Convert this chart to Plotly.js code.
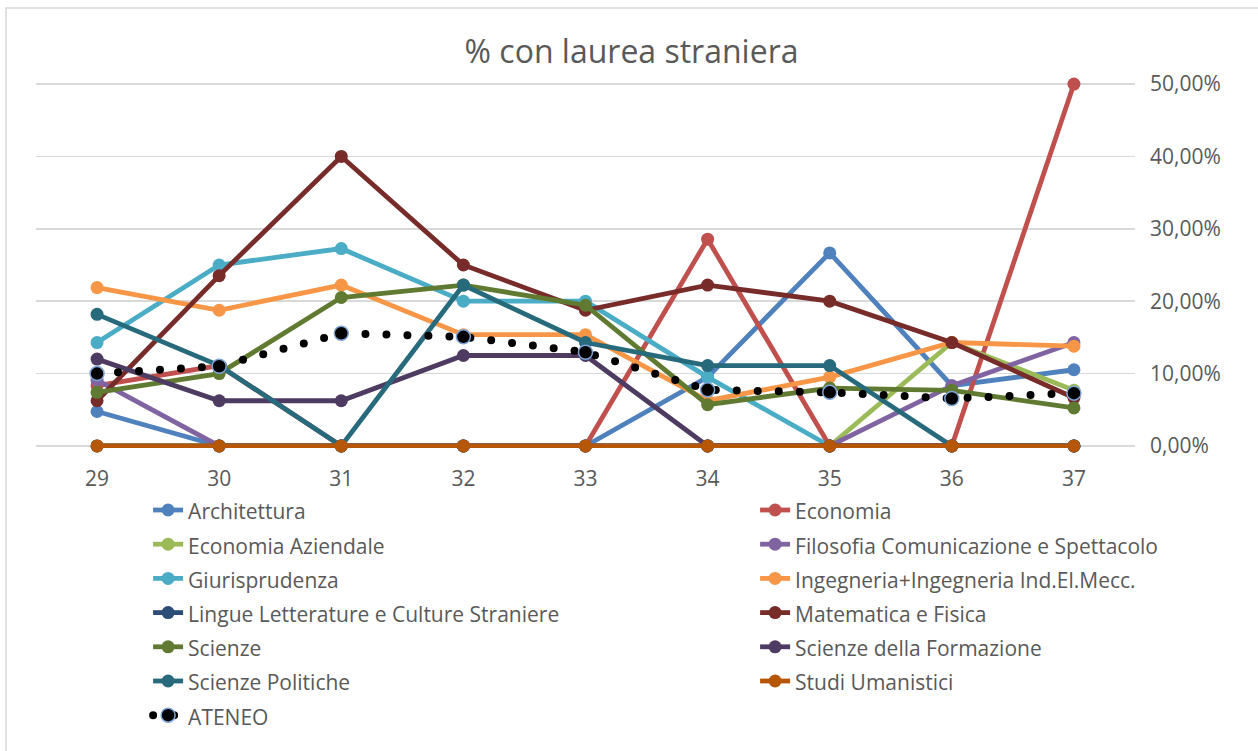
<!DOCTYPE html>
<html>
<head>
<meta charset="utf-8">
<script src="https://cdn.plot.ly/plotly-3.0.1.min.js"></script>
<style>
html,body{margin:0;padding:0;background:#fff;}
#chart{width:1258px;height:751px;}
.ateneo-line path.js-line{stroke-linecap:round;}
</style>
</head>
<body>
<div id="chart"></div>
<script>
const categories = ['29','30','31','32','33','34','35','36','37'];

const architettura     = [0.0476, 0, 0, 0, 0, 0.0952, 0.2667, 0.0833, 0.1053];
const economia         = [0.0833, 0.1111, 0, 0, 0, 0.2857, 0, 0, 0.5];
const economiaAz       = [0, 0, 0, 0, 0, 0, 0, 0.1429, 0.0769];
const filosofia        = [0.0909, 0, 0, 0, 0, 0, 0, 0.0833, 0.1429];
const giurisprudenza   = [0.1429, 0.25, 0.2727, 0.2, 0.2, 0.0952, 0, 0, 0];
const ingegneria       = [0.2188, 0.1875, 0.2222, 0.1538, 0.1538, 0.0625, 0.0952, 0.1429, 0.1379];
const lingue           = [0, 0, 0, 0, 0, 0, 0, 0, 0];
const matematica       = [0.0625, 0.2353, 0.4, 0.25, 0.1875, 0.2222, 0.2, 0.1429, 0.0667];
const scienze          = [0.0741, 0.1, 0.2051, 0.2222, 0.1944, 0.0571, 0.08, 0.0769, 0.0526];
const scienzeForm      = [0.12, 0.0625, 0.0625, 0.125, 0.125, 0, 0, 0, 0];
const scienzePol       = [0.1818, 0.1111, 0, 0.2222, 0.1429, 0.1111, 0.1111, 0, 0];
const studiUman        = [0, 0, 0, 0, 0, 0, 0, 0, 0];
const ateneo           = [0.1, 0.1101, 0.1557, 0.1508, 0.1295, 0.0775, 0.0741, 0.0656, 0.073];

const seriesNames = ['Architettura','Economia','Economia Aziendale','Filosofia Comunicazione e Spettacolo',
  'Giurisprudenza','Ingegneria+Ingegneria Ind.El.Mecc.','Lingue Letterature e Culture Straniere',
  'Matematica e Fisica','Scienze','Scienze della Formazione','Scienze Politiche','Studi Umanistici'];
const seriesValues = [architettura, economia, economiaAz, filosofia, giurisprudenza, ingegneria, lingue,
  matematica, scienze, scienzeForm, scienzePol, studiUman];
const seriesColors = ['#4F81BD','#C0504D','#9BBB59','#8064A2','#4BACC6','#F79646','#2C4D75',
  '#772C2A','#607B31','#4D3B62','#276A7C','#B65708'];

const LW = 4.8, MS = 13;
const label = t => '<span style="font-size:21px">' + t + '</span>';

const traces = seriesNames.map((n, i) => ({
  type: 'scatter', mode: 'lines+markers', x: categories, y: seriesValues[i],
  name: label(n),
  legendgroup: (i % 2 === 0) ? 'g1' : 'g2',
  legendwidth: (i % 2 === 0) ? 562 : undefined,
  line: {color: seriesColors[i], width: LW},
  marker: {color: seriesColors[i], size: MS},
  cliponaxis: false,
  hoverinfo: 'skip'
}));

traces.push({
  type: 'scatter', mode: 'lines+markers', x: categories, y: ateneo,
  name: label('ATENEO'),
  legendgroup: 'g1', legendwidth: 562,
  line: {color: '#000000', width: 8, dash: '0px,21px'},
  marker: {color: '#000000', size: 14, line: {color: '#7EA6D8', width: 1.5}},
  cliponaxis: false,
  hoverinfo: 'skip'
});

const layout = {
  width: 1258, height: 751,
  paper_bgcolor: '#ffffff', plot_bgcolor: '#ffffff',
  font: {family: 'Open Sans, Noto Sans, sans-serif', color: '#595959'},
  separators: ',.',
  margin: {l: 36, r: 123, t: 82, b: 303, autoexpand: false},
  title: {text: '% con laurea straniera', font: {size: 32, color: '#595959'},
          x: 0.502, xanchor: 'center', y: 1 - 52/751, yanchor: 'middle'},
  xaxis: {type: 'category', range: [-0.5, 8.5], showgrid: false, zeroline: false, showline: false,
          ticks: '', ticklabelstandoff: 16, tickfont: {size: 21, color: '#595959'}},
  yaxis: {side: 'right', range: [-0.0028, 0.5028], dtick: 0.1, tick0: 0, tickformat: '.2%',
          showgrid: true, gridcolor: '#D9D9D9', gridwidth: 1.5, zeroline: false, showline: false,
          ticks: '', ticklabelstandoff: 14, tickfont: {size: 21, color: '#595959'}},
  showlegend: true,
  legend: {orientation: 'h', traceorder: 'grouped', x: 0.102, xanchor: 'left',
           y: -0.109, yanchor: 'top', font: {size: 24, color: '#595959'},
           bgcolor: 'rgba(0,0,0,0)', tracegroupgap: 0},
  shapes: [{type: 'rect', xref: 'paper', yref: 'paper',
            x0: (6 - 36) / 1099, x1: (1262 - 36) / 1099,
            y0: (448 - 760) / 366, y1: (448 - 8) / 366,
            line: {color: '#D9D9D9', width: 1.5}, fillcolor: 'rgba(0,0,0,0)', layer: 'below'}]
};

Plotly.newPlot('chart', traces, layout, {displayModeBar: false, staticPlot: true}).then(gd => {
  const tr = gd.querySelectorAll('.scatterlayer .trace');
  const last = tr[tr.length - 1];
  if (last) last.classList.add('ateneo-line');
  const lt = gd.querySelectorAll('.legend .traces');
  lt.forEach(t => {
    if (t.textContent.indexOf('ATENEO') >= 0) t.classList.add('ateneo-line');
  });
});
</script>
</body>
</html>
